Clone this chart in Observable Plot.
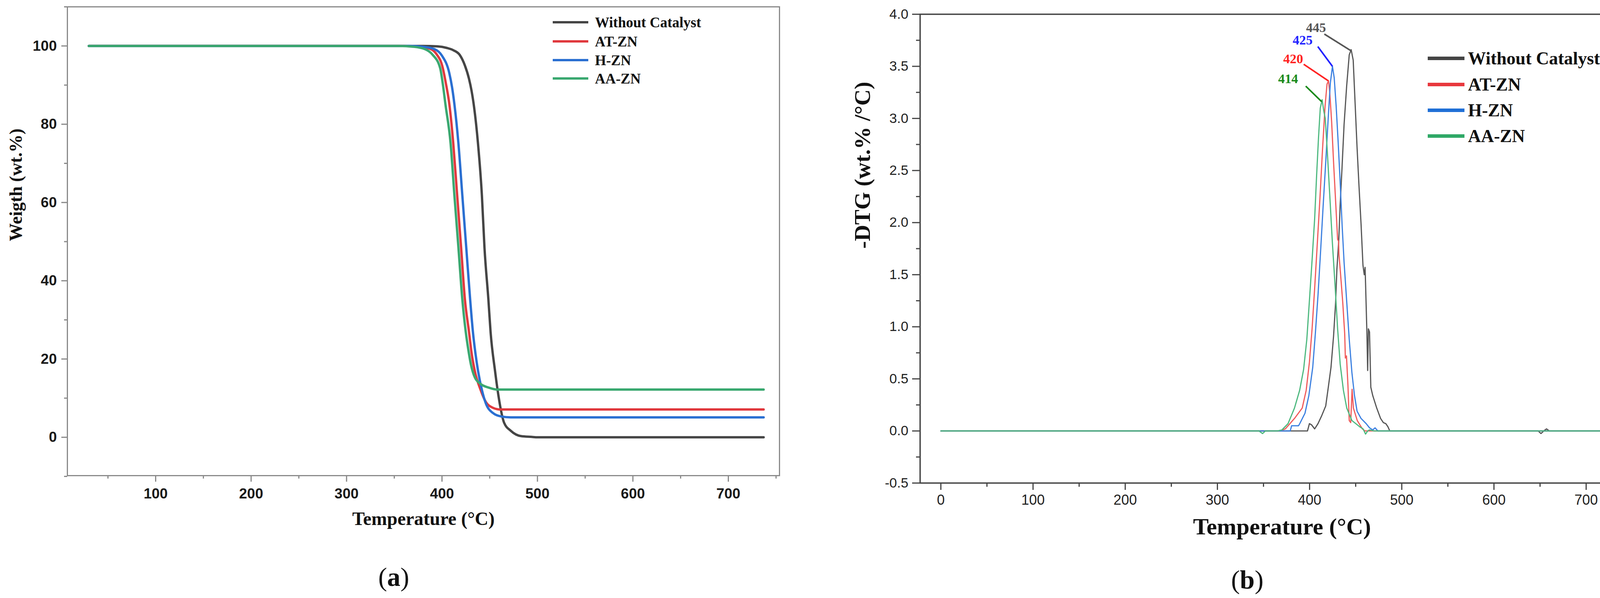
<!DOCTYPE html>
<html>
<head>
<meta charset="utf-8">
<script src="https://cdn.jsdelivr.net/npm/d3@7"></script>
<script src="https://cdn.jsdelivr.net/npm/@observablehq/plot@0.6"></script>
<style>
  html, body { margin: 0; padding: 0; background: #fff; }
  #wrap { position: relative; width: 4228px; height: 1532px; overflow: hidden; background: #fff; }
  .panel { position: absolute; top: 0; }
  .legend { position: absolute; font-family: "Liberation Serif", "Times New Roman", serif; font-weight: bold; color: #111; }
  .legrow { position: absolute; display: flex; align-items: center; white-space: nowrap; }
  .legline { display: inline-block; }
  .cap { position: absolute; transform: translate(-50%, -50%); font-family: "Liberation Serif", "Times New Roman", serif; font-size: 68px; color: #111; }
  .cap b { font-weight: bold; }
</style>
</head>
<body>
<div id="wrap"></div>
<script>
// ---------- series names and colours ----------
const seriesNames = ["Without Catalyst", "AT-ZN", "H-ZN", "AA-ZN"];
const colorsA = ["#454545", "#e0393e", "#2a6fd1", "#3aa870"];
const colorsB = ["#555555", "#f05a5a", "#3a7fe0", "#4cb87e"];
const legendColorsB = ["#444444", "#e8383d", "#1f6fd6", "#2fa866"];

// ---------- (a) TGA: [temperature °C, weight %] ----------
const tgaWithout = [[30,100],[380,100],[395,99.9],[405,99.5],[412,98.9],[418.6,97.7],[424,95],[428.2,91.7],[431,88.5],[433.6,84.4],[437.7,75.1],[441.8,61.8],[444.5,48.5],[448.6,35.2],[450.9,26.9],[455.6,16.9],[458.3,12.0],[461.7,7.0],[465.1,3.7],[471.9,1.7],[482.8,0.3],[494,0.1],[500,0],[737,0]];
const tgaAT = [[30,100],[360,100],[375,99.8],[387,99.3],[394,98],[400.8,94.4],[404,90.5],[407.7,85.1],[411.8,75.1],[415.9,61.8],[420,48.5],[424,35.2],[428.3,26.9],[431,21.5],[434.4,16.9],[440.6,12.0],[446,9.0],[452.8,7.6],[461,7.1],[737,7.1]];
const tgaH = [[30,100],[365,100],[380,99.8],[392,99.2],[400,97.5],[407.7,93],[410.5,89.5],[413,85.1],[417.2,75.1],[421.3,61.8],[425.4,48.5],[429.5,35.2],[432.4,26.9],[435,21.5],[437.8,16.9],[441.9,12.0],[446,8.6],[452.8,6.3],[462.3,5.3],[472,5.1],[737,5.1]];
const tgaAA = [[30,100],[355,100],[370,99.8],[382,99.2],[390,97.8],[398,94.4],[401,90],[403.6,85.1],[409,75.1],[413,61.8],[417.2,48.5],[421.3,35.2],[424.9,26.9],[427.5,22.5],[430.3,18.6],[434.4,15.3],[440.6,13.6],[448.8,12.7],[458,12.2],[737,12.2]];

// ---------- (b) DTG: [temperature °C, -DTG wt.%/°C] ----------
const dtgWithout = [[0,0],[397.7,0],[399.8,0.07],[402,0.06],[405.5,0.02],[409.1,0.07],[413.3,0.15],[417.5,0.24],[420.3,0.42],[423.2,0.61],[426,0.91],[428.2,1.23],[429.6,1.55],[431.7,1.84],[433.1,2.16],[435.2,2.53],[437.4,2.94],[440.2,3.31],[443,3.61],[445.1,3.66],[447.3,3.56],[449.4,3.14],[451.5,2.72],[453.6,2.35],[455.8,1.99],[457.9,1.59],[459.3,1.50],[460.2,1.57],[460.7,1.42],[462.2,0.93],[463,0.58],[463.8,0.98],[465,0.95],[466.4,0.42],[468.5,0.34],[472.8,0.22],[477,0.12],[480,0.08],[482.7,0.07],[485,0.04],[487,0],[648,0],[651,-0.025],[654,0],[657,0.02],[660,0],[740,0]];
const dtgAT = [[0,0],[368,0],[373.7,0.02],[383.6,0.12],[392,0.22],[396.3,0.39],[399.8,0.66],[402.7,0.98],[405.5,1.37],[408.3,1.79],[411.2,2.23],[414,2.70],[416.8,3.12],[418.9,3.33],[420.5,3.36],[421.8,3.26],[423.9,2.97],[426,2.58],[428.2,2.21],[430.4,1.84],[431.5,1.82],[431.8,1.70],[433.2,1.55],[436,1.23],[438.1,0.93],[438.8,0.70],[440,0.72],[441.6,0.44],[443,0.10],[444.6,0.08],[446.1,0.40],[447.5,0.22],[451.7,0.10],[457.3,0.02],[460.1,0],[740,0]];
const dtgH = [[0,0],[379,0],[380.5,0.05],[388,0.05],[389.3,0.07],[395,0.17],[399.2,0.34],[403.4,0.61],[406.2,0.93],[409.1,1.30],[411.9,1.72],[414.7,2.16],[417.5,2.58],[420.3,3.02],[422.5,3.34],[424.8,3.50],[426.7,3.39],[428.8,3.12],[431,2.77],[433.1,2.40],[435.2,1.99],[437.4,1.62],[440.2,1.25],[443,0.88],[445.9,0.56],[448.7,0.34],[451.5,0.19],[455.8,0.12],[461.4,0.07],[465,0.03],[468.5,0.01],[471,0.03],[474,0],[740,0]];
const dtgAA = [[0,0],[345,0],[349,-0.025],[352,0],[365,0],[370,0.01],[376.6,0.07],[383.6,0.22],[389.2,0.39],[393.5,0.59],[397,0.88],[399.8,1.25],[402.7,1.64],[405.5,2.04],[407.6,2.45],[409.7,2.82],[411.6,3.10],[413.6,3.18],[415.4,3.07],[417,3.0],[419.1,2.70],[421.9,2.26],[424.7,1.81],[427.6,1.40],[430.4,0.98],[433.2,0.64],[436.7,0.39],[440.3,0.22],[445.9,0.10],[454.4,0.04],[458,0.02],[460.7,-0.03],[463,0],[465,0.01],[470,0],[740,0]];

// peak annotations (b)
const peakLabels = ["445", "425", "420", "414"];
const peakT = [444.8, 424.8, 420.5, 413.2];
const peakD = [3.65, 3.50, 3.36, 3.16];
const labelT = [407, 392.4, 382.2, 376.7];
const labelD = [3.87, 3.75, 3.57, 3.38];
const leaderT = [416, 408.9, 393.6, 395.8];
const leaderD = [3.81, 3.69, 3.52, 3.31];
const peakColors = ["#555555", "#2222ff", "#ff2222", "#1a8a1a"];

// ticks
const xTicksA = [100, 200, 300, 400, 500, 600, 700];
const xMinorA = [50, 150, 250, 350, 450, 550, 650, 750];
const yTicksA = [0, 20, 40, 60, 80, 100];
const yMinorA = [-10, 10, 30, 50, 70, 90, 110];
const xTicksB = [0, 100, 200, 300, 400, 500, 600, 700];
const xMinorB = [50, 150, 250, 350, 450, 550, 650, 750];
const yTicksB = [-0.5, 0, 0.5, 1, 1.5, 2, 2.5, 3, 3.5, 4];
const yMinorB = [-0.25, 0.25, 0.75, 1.25, 1.75, 2.25, 2.75, 3.25, 3.75];

// ---------- build tables ----------
function toRows(series, arrays) {
  return arrays.flatMap((arr, i) => arr.map(([t, v]) => ({series: series[i], t, v})));
}
const tgaRows = toRows(seriesNames, [tgaWithout, tgaAT, tgaH, tgaAA]);
const dtgRows = toRows(seriesNames, [dtgWithout, dtgAT, dtgH, dtgAA]);
const peaks = peakLabels.map((label, i) => ({label, pt: peakT[i], pd: peakD[i], lt: labelT[i], ld: labelD[i], qt: leaderT[i], qd: leaderD[i], color: peakColors[i]}));

const serif = "Liberation Serif, Times New Roman, serif";
const sans = "Liberation Sans, Arial, sans-serif";
const wrap = document.getElementById("wrap");

// ---------- panel (a) ----------
const plotA = Plot.plot({
  width: 2100, height: 1420,
  marginLeft: 172, marginRight: 105, marginTop: 17, marginBottom: 202,
  style: {background: "transparent", overflow: "visible"},
  x: {domain: [7.5, 753.6]},
  y: {domain: [-9.8, 110]},
  color: {domain: seriesNames, range: colorsA},
  marks: [
    Plot.axisX({ticks: xMinorA, tickSize: 8, tickFormat: () => "", label: null, stroke: "#888", strokeWidth: 3}),
    Plot.axisY({ticks: yMinorA, tickSize: 8, tickFormat: () => "", label: null, stroke: "#888", strokeWidth: 3}),
    Plot.axisX({ticks: xTicksA, tickSize: 16, tickPadding: 16, label: null, stroke: "#888", strokeWidth: 3,
      fill: "#1a1a1a", fontSize: 37, fontWeight: "bold", fontFamily: sans}),
    Plot.axisY({ticks: yTicksA, tickSize: 15, tickPadding: 12, label: null, stroke: "#888", strokeWidth: 3,
      fill: "#1a1a1a", fontSize: 37, fontWeight: "bold", fontFamily: sans}),
    Plot.frame({stroke: "#8a8a8a", strokeWidth: 3}),
    Plot.line(tgaRows, {x: "t", y: "v", z: "series", stroke: "series", strokeWidth: 6, curve: "monotone-x"}),
    Plot.text(["Temperature (°C)"], {text: d => d, frameAnchor: "bottom", dy: 126, fontSize: 48, fontWeight: "bold", fontFamily: serif, fill: "#111"}),
    Plot.text(["Weigth (wt.%)"], {text: d => d, frameAnchor: "left", dx: -131, rotate: -90, fontSize: 46, fontWeight: "bold", fontFamily: serif, fill: "#111"})
  ]
});
plotA.classList.add("panel");
plotA.style.left = "0px";
wrap.appendChild(plotA);

// ---------- panel (b) ----------
const plotB = Plot.plot({
  width: 2128, height: 1420,
  marginLeft: 255, marginRight: 20, marginTop: 36, marginBottom: 183,
  style: {background: "transparent", overflow: "visible"},
  x: {domain: [-22.5, 762.7]},
  y: {domain: [-0.5, 4.0]},
  color: {domain: seriesNames, range: colorsB},
  marks: [
    Plot.axisX({ticks: xMinorB, tickSize: 10, tickFormat: () => "", label: null, stroke: "#444", strokeWidth: 3}),
    Plot.axisY({ticks: yMinorB, tickSize: 10, tickFormat: () => "", label: null, stroke: "#444", strokeWidth: 3}),
    Plot.axisX({ticks: xTicksB, tickSize: 18, tickPadding: 12, label: null, stroke: "#444", strokeWidth: 3,
      fill: "#222", fontSize: 36, fontFamily: sans}),
    Plot.axisY({ticks: yTicksB, tickSize: 20, tickPadding: 10, label: null, stroke: "#444", strokeWidth: 3,
      tickFormat: d => d.toFixed(1), fill: "#222", fontSize: 35, fontFamily: sans}),
    Plot.frame({stroke: "#444", strokeWidth: 3.5}),
    Plot.line(dtgRows, {x: "t", y: "v", z: "series", stroke: "series", strokeWidth: 3}),
    Plot.link(peaks, {x1: "qt", y1: "qd", x2: "pt", y2: "pd", stroke: "color", strokeWidth: 4}),
    Plot.text(peaks, {x: "lt", y: "ld", text: "label", fill: "color", fontSize: 34, fontFamily: serif, fontWeight: "bold"}),
    Plot.text(["Temperature (°C)"], {text: d => d, frameAnchor: "bottom", dy: 131, fontSize: 60, fontWeight: "bold", fontFamily: serif, fill: "#111"}),
    Plot.text(["-DTG (wt.% /°C)"], {text: d => d, frameAnchor: "left", dx: -147, rotate: -90, fontSize: 58, fontWeight: "bold", fontFamily: serif, fill: "#111"})
  ]
});
plotB.classList.add("panel");
plotB.style.left = "2100px";
wrap.appendChild(plotB);

// ---------- legends (HTML overlays) ----------
function legend(cfg) {
  const box = document.createElement("div");
  box.className = "legend";
  box.style.left = cfg.left + "px";
  box.style.top = "0px";
  box.style.fontSize = cfg.fontSize + "px";
  seriesNames.forEach((name, i) => {
    const row = document.createElement("div");
    row.className = "legrow";
    row.style.top = (cfg.rows[i] - cfg.rowH / 2) + "px";
    row.style.height = cfg.rowH + "px";
    row.style.left = "0px";
    const ln = document.createElement("span");
    ln.className = "legline";
    ln.style.width = cfg.lineW + "px";
    ln.style.height = cfg.lineH + "px";
    ln.style.background = cfg.colors[i];
    ln.style.marginRight = cfg.gap + "px";
    const tx = document.createElement("span");
    tx.textContent = name;
    row.appendChild(ln);
    row.appendChild(tx);
    box.appendChild(row);
  });
  wrap.appendChild(box);
}
legend({left: 1415, rows: [57, 106, 154, 201], rowH: 46, lineW: 91, lineH: 6, gap: 17, fontSize: 37, colors: colorsA});
legend({left: 3655, rows: [149, 216, 282, 348], rowH: 60, lineW: 94, lineH: 9, gap: 9, fontSize: 46, colors: legendColorsB});

// ---------- captions ----------
[["a", 1008, 1478], ["b", 3193, 1485]].forEach(([letter, cx, cy]) => {
  const c = document.createElement("div");
  c.className = "cap";
  c.style.left = cx + "px";
  c.style.top = cy + "px";
  c.innerHTML = "(<b>" + letter + "</b>)";
  wrap.appendChild(c);
});
</script>
</body>
</html>
